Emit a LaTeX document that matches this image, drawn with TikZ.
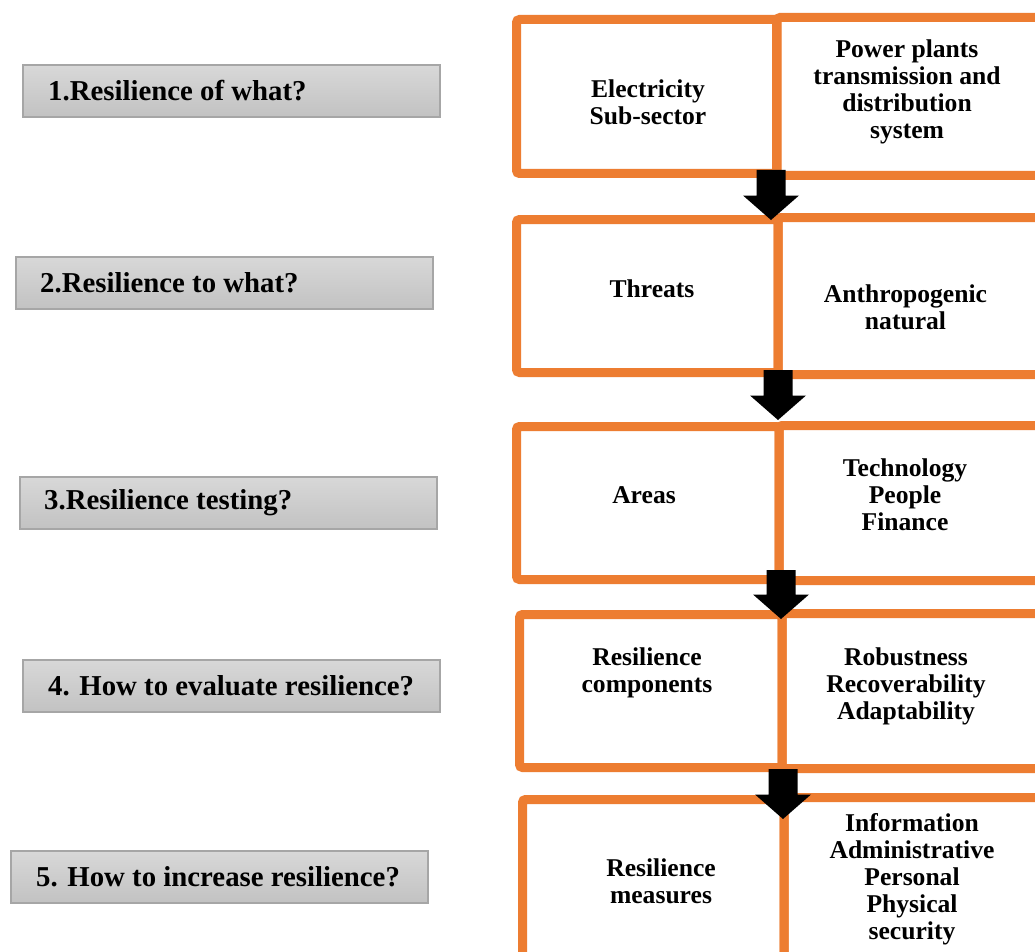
\documentclass[tikz,border=0pt]{standalone}
\usepackage{fontspec}
\setmainfont{Liberation Serif}
\definecolor{orng}{HTML}{ED7D31}
\definecolor{gtop}{HTML}{D8D8D8}
\definecolor{gbot}{HTML}{C2C2C2}
\definecolor{gedge}{HTML}{A6A6A6}
\tikzset{
  qbox/.style={draw=gedge, line width=1.3pt, top color=gtop, bottom color=gbot,
    minimum width=417pt, minimum height=52pt, inner sep=0pt, outer sep=0pt, anchor=north west},
  qtext/.style={anchor=west, inner sep=0pt, font=\fontsize{28.8}{32}\selectfont\bfseries},
  obox/.style={draw=orng, line width=9pt, rounded corners=3pt, inner sep=0pt, outer sep=0pt, anchor=north west},
  btext/.style={align=center, inner sep=0pt, font=\fontsize{25.6}{27}\selectfont\bfseries},
}
\newcommand{\blockarrow}[3]{% x, shaft top, tip
  \fill[black] ({#1-14.5},#2) -- ({#1+14.5},#2) -- ({#1+14.5},{#3-24.5}) -- ({#1+28},{#3-24.5})
    -- (#1,#3) -- ({#1-28},{#3-24.5}) -- ({#1-14.5},{#3-24.5}) -- cycle;}
\begin{document}
\begin{tikzpicture}[x=1pt,y=-1pt]
\useasboundingbox (0,0) rectangle (1035,952);
\fill[white] (0,0) rectangle (1035,952);

% question boxes
\node[qbox] (g1) at (23,65) {};
\node[qtext] (t1) at ([xshift=25pt]g1.west) {1.Resilience of what?};
\node[qbox] (g2) at (16,257) {};
\node[qtext] (t2) at ([xshift=24pt]g2.west) {2.Resilience to what?};
\node[qbox] (g3) at (20,477) {};
\node[qtext] (t3) at ([xshift=24pt]g3.west) {3.Resilience testing?};
\node[qbox] (g4) at (23,660) {};
\node[qtext] (t4) at ([xshift=25pt]g4.west) {4. How to evaluate resilience?};
\node[qbox] (g5) at (11,851) {};
\node[qtext] (t5) at ([xshift=25pt]g5.west) {5. How to increase resilience?};

% row 1
\node[obox, minimum width=260pt, minimum height=154pt] (l1) at (516.5,19.5) {};
\node[obox, minimum width=290pt, minimum height=158pt] (r1) at (777,17.5) {};
% row 2
\node[obox, minimum width=261.5pt, minimum height=153pt] (l2) at (516.5,219.5) {};
\node[obox, minimum width=290pt, minimum height=157pt] (r2) at (778,217.5) {};
% row 3
\node[obox, minimum width=262.5pt, minimum height=153pt] (l3) at (516.5,426.5) {};
\node[obox, minimum width=290pt, minimum height=155pt] (r3) at (779,425.5) {};
% row 4
\node[obox, minimum width=262.5pt, minimum height=153pt] (l4) at (519.5,614.5) {};
\node[obox, minimum width=290pt, minimum height=155pt] (r4) at (782,613.5) {};
% row 5
\node[obox, minimum width=261.5pt, minimum height=180pt] (l5) at (522.5,799.5) {};
\node[obox, minimum width=290pt, minimum height=180pt] (r5) at (784,797.5) {};

% texts
\node[btext] (a1) at (648,102) {Electricity\\Sub-sector};
\node[btext] (b1) at (907,92) {Power plants\\transmission and\\distribution\\system};
\node[btext] (a2) at (652,289) {Threats};
\node[btext] (b2) at (905.5,307) {Anthropogenic\\natural};
\node[btext] (a3) at (644,495) {Areas};
\node[btext] (b3) at (905,495) {Technology\\People\\Finance};
\node[btext] (a4) at (647,673) {Resilience\\components};
\node[btext] (b4) at (906,686) {Robustness\\Recoverability\\Adaptability};
\node[btext] (a5) at (661,881) {Resilience\\measures};
\node[btext] (b5) at (912,879) {Information\\Administrative\\Personal\\Physical\\security};

% arrows
\blockarrow{771}{170}{220}
\blockarrow{778}{370}{420}
\blockarrow{781}{570}{619}
\blockarrow{783}{769}{819}
\end{tikzpicture}
\end{document}
